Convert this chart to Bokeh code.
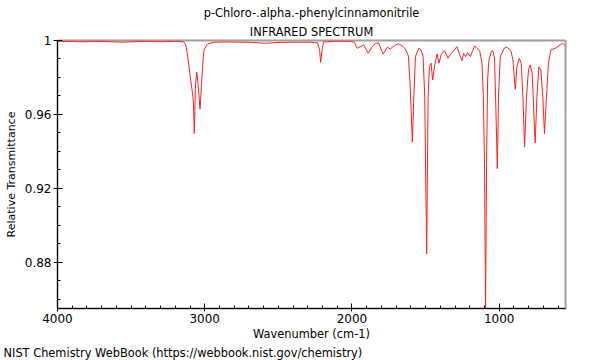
from bokeh.plotting import figure
from bokeh.models import Range1d, FixedTicker, Title
from bokeh.embed import file_html
from bokeh.resources import INLINE

title_line1 = "p-Chloro-.alpha.-phenylcinnamonitrile"
title_line2 = "INFRARED SPECTRUM"
x_label = "Wavenumber (cm-1)"
y_label = "Relative Transmittance"
footer = "NIST Chemistry WebBook (https://webbook.nist.gov/chemistry)"

x_major = [1000, 2000, 3000, 4000]
x_minor = list(range(600, 4000, 100))
y_major = [0.88, 0.92, 0.96, 1.0]
y_major_labels = ["0.88", "0.92", "0.96", "1"]
y_minor = [0.86, 0.87, 0.89, 0.90, 0.91, 0.93, 0.94, 0.95, 0.97, 0.98, 0.99]

wavenumber = [
    4000, 3841, 3705, 3569, 3434, 3298, 3197, 3142, 3129, 3117, 3100, 3083, 3077,
    3071, 3063, 3054, 3045, 3032, 3022, 3014, 3005, 2982, 2937, 2824, 2688, 2586,
    2485, 2349, 2268, 2234, 2220, 2213, 2203, 2193, 2112, 2010, 1983, 1965, 1942,
    1920, 1890, 1863, 1841, 1820, 1788, 1761, 1739, 1712, 1683, 1660, 1637, 1617,
    1605, 1590, 1580, 1569, 1547, 1531, 1517, 1506, 1493, 1483, 1474, 1463, 1452,
    1438, 1422, 1409, 1393, 1371, 1348, 1325, 1287, 1264, 1253, 1242, 1228, 1215,
    1196, 1183, 1167, 1151, 1133, 1117, 1108, 1100, 1093, 1086, 1079, 1070, 1054,
    1043, 1032, 1022, 1013, 1005, 993, 966, 948, 921, 907, 891, 880, 864, 851, 839,
    828, 815, 801, 790, 776, 765, 756, 744, 731, 717, 704, 693, 679, 666, 649, 620,
    586, 568, 552,
]
transmittance = [
    0.9996, 0.9993, 0.9995, 0.9991, 0.9995, 0.9993, 0.9996, 0.9992, 0.9976, 0.9922,
    0.9813, 0.9714, 0.9668, 0.9497, 0.9759, 0.9828, 0.9759, 0.9629, 0.9759, 0.9868,
    0.9949, 0.9980, 0.9991, 0.9992, 0.9990, 0.9985, 0.9990, 0.9991, 0.9990, 0.9987,
    0.9949, 0.9882, 0.9949, 0.9992, 0.9996, 0.9995, 0.9990, 0.9958, 0.9967, 0.9976,
    0.9931, 0.9967, 0.9984, 0.9987, 0.9926, 0.9963, 0.9954, 0.9973, 0.9982, 0.9971,
    0.9954, 0.9916, 0.9759, 0.9450, 0.9696, 0.9913, 0.9958, 0.9949, 0.9913, 0.9696,
    0.8847, 0.9696, 0.9858, 0.9877, 0.9786, 0.9868, 0.9927, 0.9877, 0.9927, 0.9945,
    0.9904, 0.9931, 0.9967, 0.9913, 0.9891, 0.9931, 0.9913, 0.9934, 0.9913, 0.9940,
    0.9971, 0.9958, 0.9945, 0.9877, 0.9696, 0.9336, 0.8540, 0.9336, 0.9786, 0.9895,
    0.9940, 0.9945, 0.9904, 0.9607, 0.9307, 0.9696, 0.9913, 0.9958, 0.9964, 0.9945,
    0.9895, 0.9736, 0.9858, 0.9904, 0.9877, 0.9696, 0.9424, 0.9696, 0.9844, 0.9868,
    0.9823, 0.9607, 0.9446, 0.9696, 0.9858, 0.9840, 0.9696, 0.9497, 0.9696, 0.9877,
    0.9949, 0.9958, 0.9976, 0.9985, 0.9972,
]

FONT = "DejaVu Sans"
TXT = "11.4px"

p = figure(
    width=600, height=360,
    x_range=Range1d(4000, 550), y_range=Range1d(0.8551, 1.0),
    output_backend="svg", toolbar_location=None, title=None,
    min_border_left=57, min_border_right=35, min_border_top=40, min_border_bottom=52,
)
p.background_fill_color = "white"
p.border_fill_color = "white"
p.outline_line_color = "#a0a0a0"
p.outline_line_width = 2
p.xgrid.visible = False
p.ygrid.visible = False

p.line(wavenumber, transmittance, line_color="#ff2020", line_width=1)

xa = p.xaxis[0]
xa.ticker = FixedTicker(ticks=x_major, minor_ticks=x_minor)
xa.axis_label = x_label
ya = p.yaxis[0]
ya.ticker = FixedTicker(ticks=y_major, minor_ticks=y_minor)
ya.major_label_overrides = {v: s for v, s in zip(y_major, y_major_labels)}
ya.axis_label = y_label

for ax in (xa, ya):
    ax.axis_line_color = "black"
    ax.major_tick_line_color = "black"
    ax.minor_tick_line_color = "black"
    ax.major_tick_in = 5
    ax.major_tick_out = 4
    ax.minor_tick_in = 3
    ax.minor_tick_out = 0
    ax.major_label_text_font = FONT
    ax.major_label_text_font_size = "12px"
    ax.major_label_text_color = "black"
    ax.axis_label_text_font = FONT
    ax.axis_label_text_font_size = TXT
    ax.axis_label_text_font_style = "normal"
    ax.axis_label_text_color = "black"
xa.major_tick_out = 3
xa.major_label_standoff = 2
xa.axis_label_standoff = 1
ya.major_label_standoff = 2
ya.axis_label_standoff = 4
ya.axis_label_text_font_size = "11px"


def make_title(txt, align="center", standoff=2, offset=0):
    return Title(text=txt, align=align, text_font=FONT, text_font_size=TXT,
                 text_font_style="normal", text_color="black", standoff=standoff,
                 offset=offset)


p.add_layout(make_title(title_line2, standoff=3), "above")
p.add_layout(make_title(title_line1, standoff=3), "above")
p.add_layout(make_title(footer, align="left", standoff=0, offset=-54), "below")

open("out.html", "w").write(file_html(p, INLINE))
